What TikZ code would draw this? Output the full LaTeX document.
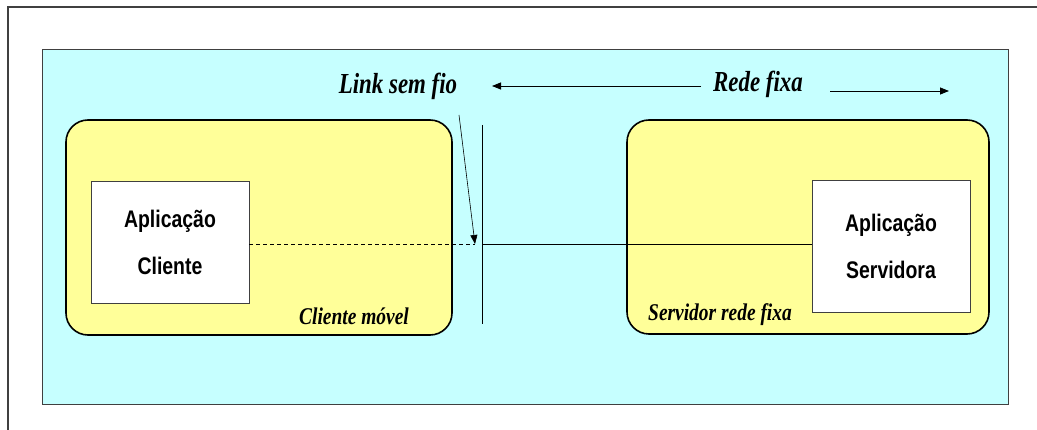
\documentclass[tikz,border=0pt]{standalone}
\usepackage{fontspec}
\usepackage{graphicx}
\setmainfont{Liberation Serif}
\setsansfont{Liberation Sans}
\usetikzlibrary{arrows.meta}
\definecolor{netcyan}{HTML}{C6FFFF}
\definecolor{hostyellow}{HTML}{FFFF99}
\definecolor{framegray}{HTML}{404040}
% tall, condensed lettering
\newcommand{\tallnarrow}[1]{\scalebox{0.81}[1]{#1}}
\tikzset{
  host/.style={draw=black, line width=1.6pt, fill=hostyellow, rounded corners=22pt},
  appbox/.style={draw=framegray, line width=0.9pt, fill=white, align=center,
    font=\sffamily\bfseries\fontsize{24}{47}\selectfont},
  tag/.style={font=\rmfamily\bfseries\itshape\fontsize{24}{26}\selectfont, inner sep=0pt},
  bigtag/.style={font=\rmfamily\bfseries\itshape\fontsize{29}{31}\selectfont, inner sep=0pt},
  conn/.style={draw=black, line width=0.8pt},
  tip/.style={-{Triangle[length=9pt,width=7pt]}}
}
\begin{document}
\begin{tikzpicture}[x=1pt,y=-1pt]
\useasboundingbox (0,0) rectangle (1037,430);
% outer frame (open on the right and bottom)
\draw[framegray, line width=2pt] (8,430) -- (8,7) -- (1037,7);
% network area
\draw[draw=framegray, line width=0.8pt, fill=netcyan] (42,49) rectangle (1008,404);
% hosts
\draw[host] (66,120) rectangle (452,335);
\draw[host] (627,120) rectangle (989,334);
% applications
\node[appbox, minimum width=158pt, minimum height=122pt] (cli) at (170,242)
  {\tallnarrow{Aplicação}\\\tallnarrow{Cliente}};
\node[appbox, minimum width=158pt, minimum height=132pt] (srv) at (891,246)
  {\tallnarrow{Aplicação}\\\tallnarrow{Servidora}};
% host labels
\node[tag] (mob) at (354,316) {\scalebox{0.81}[1]{Cliente móvel}};
\node[tag] (fix) at (720,315) {\scalebox{0.81}[1]{Servidor rede fixa}};
% network labels
\node[bigtag] (lsf) at (398,86) {\scalebox{0.79}[1]{Link sem fio}};
\node[bigtag] (rf) at (758,84) {\scalebox{0.79}[1]{Rede fixa}};
% boundary between wireless link and fixed network
\coordinate (btop) at (482,125);
\coordinate (bbot) at (482,324);
\draw[conn] (btop) -- (bbot);
% connection
\coordinate (ap) at (475,244);
\coordinate (jn) at (483,244);
\draw[conn, dashed, dash pattern=on 4pt off 3pt] (cli.east |- ap) -- (ap);
\draw[conn] (jn) -- (srv.west |- jn);
% pointer from the wireless link label
\coordinate (ps) at (459,115);
\draw[conn, line width=0.6pt, tip] (ps) -- (ap);
% extent arrows of the fixed network
\coordinate (la) at (701,86);
\coordinate (lb) at (492,86);
\coordinate (ra) at (830,91);
\coordinate (rb) at (949,91);
\draw[conn, tip] (la) -- (lb);
\draw[conn, tip] (ra) -- (rb);
\end{tikzpicture}
\end{document}
